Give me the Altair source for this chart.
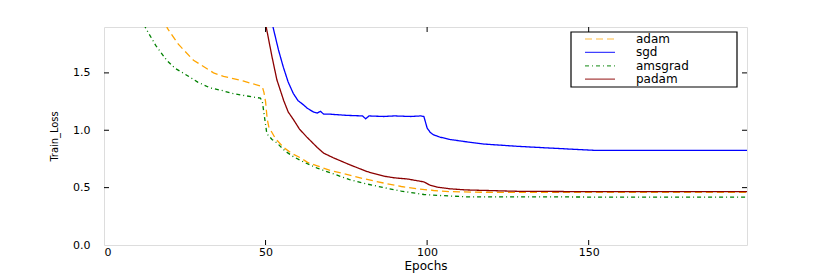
import altair as alt
import pandas as pd

# --- data ---
adam_x = [17, 19.6, 23, 27.7, 30, 33.9, 37, 40, 43, 45.3, 48, 49, 49.5, 50, 50.5, 51, 53, 55.6, 58, 60.8, 63, 66, 70, 76, 80, 86.6, 92, 97, 102, 107, 115, 130, 150, 175, 199]
adam_y = [2.1, 1.89, 1.75, 1.61, 1.57, 1.50, 1.47, 1.45, 1.43, 1.41, 1.39, 1.38, 1.33, 1.25, 1.10, 1.03, 0.93, 0.85, 0.80, 0.76, 0.72, 0.69, 0.65, 0.61, 0.58, 0.54, 0.51, 0.49, 0.475, 0.465, 0.46, 0.458, 0.458, 0.458, 0.458]

sgd_x = [50.5, 52.3, 54, 55.5, 57, 58.6, 60, 61.8, 63, 64.8, 66, 67, 68, 70, 75, 80, 81, 82, 86.5, 90, 95, 98, 99, 100, 101, 102, 104, 107, 112, 117.5, 128, 138, 151.7, 170, 199]
sgd_y = [2.3, 1.9, 1.70, 1.55, 1.42, 1.32, 1.26, 1.22, 1.19, 1.16, 1.15, 1.165, 1.14, 1.14, 1.13, 1.125, 1.10, 1.125, 1.12, 1.125, 1.12, 1.125, 1.12, 1.02, 0.98, 0.96, 0.94, 0.92, 0.90, 0.88, 0.86, 0.845, 0.825, 0.825, 0.825]

amsgrad_x = [10, 12.9, 16, 19.4, 22, 25.6, 29, 32.8, 36, 40, 44, 48.4, 49, 49.5, 50, 50.4, 52, 53.5, 56, 58.6, 62, 66, 70, 76, 80, 86.6, 92, 99, 105, 112, 130, 150, 199]
amsgrad_y = [2.1, 1.89, 1.74, 1.61, 1.54, 1.48, 1.42, 1.37, 1.35, 1.32, 1.30, 1.28, 1.25, 1.15, 1.05, 0.97, 0.92, 0.89, 0.82, 0.77, 0.72, 0.67, 0.63, 0.57, 0.54, 0.50, 0.47, 0.44, 0.43, 0.42, 0.42, 0.418, 0.418]

padam_x = [49, 50.2, 52, 53.5, 55.6, 57, 58.7, 60.5, 62.8, 66, 68, 71, 76, 81.4, 84, 86.6, 90, 94, 99, 101, 103, 107, 112, 128, 150, 199]
padam_y = [2.2, 1.9, 1.64, 1.44, 1.26, 1.16, 1.09, 1.01, 0.94, 0.85, 0.80, 0.76, 0.70, 0.64, 0.62, 0.60, 0.585, 0.575, 0.55, 0.52, 0.505, 0.49, 0.48, 0.468, 0.465, 0.465]

series = ["adam", "sgd", "amsgrad", "padam"]
colors = ["#FFA500", "#0000FF", "#008000", "#8B0000"]
dashes = [[7, 4], [1, 0], [4, 3, 1, 3], [1, 0]]

x_ticks = [0, 50, 100, 150]
y_ticks = [0.0, 0.5, 1.0, 1.5]

W, H = 643, 218

rows = []
for name, xs, ys in [("adam", adam_x, adam_y), ("sgd", sgd_x, sgd_y),
                     ("amsgrad", amsgrad_x, amsgrad_y), ("padam", padam_x, padam_y)]:
    for i, (a, b) in enumerate(zip(xs, ys)):
        rows.append({"epoch": a, "loss": b, "opt": name, "order": i})
df = pd.DataFrame(rows)

xscale = alt.Scale(domain=[0, 199], nice=False, zero=False)
yscale = alt.Scale(domain=[0, 1.9], nice=False)

lines = alt.Chart(df).mark_line(clip=True, strokeWidth=1.3).encode(
    x=alt.X("epoch:Q", scale=xscale,
            axis=alt.Axis(values=x_ticks, title="Epochs", grid=False, domain=False,
                          tickSize=0, labelPadding=1, labelFontSize=11,
                          labelFont="DejaVu Sans", labelColor="black",
                          titleFont="DejaVu Sans", titleFontSize=12,
                          titleFontWeight="normal", titlePadding=3, titleColor="black")),
    y=alt.Y("loss:Q", scale=yscale,
            axis=alt.Axis(values=y_ticks, format=".1f", title="Train_Loss", grid=False,
                          domain=False, tickSize=0, labelPadding=14, labelFontSize=11,
                          labelFont="DejaVu Sans", labelColor="black",
                          titleFont="Liberation Sans Narrow, DejaVu Sans Condensed, DejaVu Sans",
                          titleFontSize=11,
                          titleFontWeight="normal", titlePadding=13, titleColor="black")),
    color=alt.Color("opt:N", scale=alt.Scale(domain=series, range=colors), legend=None),
    strokeDash=alt.StrokeDash("opt:N", scale=alt.Scale(domain=series, range=dashes), legend=None),
    order="order:Q",
)

xt = pd.DataFrame({"t": x_ticks[1:]})
yt = pd.DataFrame({"t": y_ticks[1:]})

xb = alt.Chart(xt).mark_rule(color="black").encode(
    x=alt.X("t:Q", scale=xscale), y=alt.value(H), y2=alt.value(H - 5))
xtop = alt.Chart(xt).mark_rule(color="black").encode(
    x=alt.X("t:Q", scale=xscale), y=alt.value(0), y2=alt.value(5))
yl = alt.Chart(yt).mark_rule(color="black").encode(
    y=alt.Y("t:Q", scale=yscale), x=alt.value(0), x2=alt.value(5))
yr = alt.Chart(yt).mark_rule(color="black").encode(
    y=alt.Y("t:Q", scale=yscale), x=alt.value(W), x2=alt.value(W - 5))

# --- legend drawn by hand ---
one = pd.DataFrame({"a": [0]})
box = alt.Chart(one).mark_rect(fill="white", stroke="black", strokeWidth=1.2).encode(
    x=alt.value(467), x2=alt.value(633), y=alt.value(5), y2=alt.value(60))
leg_layers = [box]
for i, (name, col, dsh) in enumerate(zip(series, colors, dashes)):
    yy = 12 + i * 13.4
    d = pd.DataFrame({"opt": [name]})
    leg_layers.append(alt.Chart(d).mark_rule(color=col, strokeDash=dsh, strokeWidth=1.2, opacity=0.75).encode(
        x=alt.value(481), x2=alt.value(511), y=alt.value(yy)))
    leg_layers.append(alt.Chart(d).mark_text(align="left", baseline="middle", fontSize=12,
                                             font="DejaVu Sans", color="black").encode(
        x=alt.value(532), y=alt.value(yy), text="opt:N"))

chart = alt.layer(lines, xb, xtop, yl, yr, *leg_layers).properties(
    width=W, height=H,
    padding={"left": 96, "top": 19, "right": 70, "bottom": 40},
    autosize=alt.AutoSizeParams(type="none"),
).configure_view(stroke="black", strokeWidth=1.5).configure(background="white")

chart.save("out.html", embed_options={"renderer": "svg", "actions": False})
